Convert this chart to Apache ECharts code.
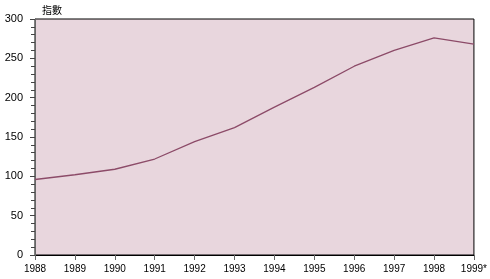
<!DOCTYPE html>
<html><head><meta charset="utf-8">
<script src="https://cdn.jsdelivr.net/npm/echarts@6/dist/echarts.min.js"></script>
<style>html,body{margin:0;padding:0;background:#fff}#c{width:490px;height:279px}</style>
</head><body><div id="c"></div>
<script>
var years = ['1988','1989','1990','1991','1992','1993','1994','1995','1996','1997','1998','1999*'];
var indexValues = [96, 102, 109, 122, 144, 162, 188, 213, 240, 260, 276, 268];
var yTicks = [0, 50, 100, 150, 200, 250, 300];
var chart = echarts.init(document.getElementById('c'));
chart.setOption({
  animation: false,
  backgroundColor: '#fff',
  title: {text: '指數', left: 37, top: 0, textStyle: {fontSize: 10, fontWeight: 'normal', color: '#000', fontFamily: 'Noto Sans CJK TC'}},
  grid: {left: 35, right: 15, top: 19, bottom: 24, show: true, backgroundColor: '#e8d6dd', borderColor: '#000', borderWidth: 1},
  xAxis: {
    type: 'category', data: years, boundaryGap: false,
    axisLine: {lineStyle: {color: '#000', width: 1}},
    axisTick: {show: true, length: 5, lineStyle: {color: '#666'}},
    axisLabel: {fontSize: 10, color: '#000', fontFamily: 'Liberation Sans', margin: 9, interval: 0},
    splitLine: {show: false}
  },
  yAxis: {
    type: 'value', min: yTicks[0], max: yTicks[yTicks.length-1], interval: 50,
    axisLine: {show: true, lineStyle: {color: '#666', width: 1}},
    axisTick: {show: true, length: 5, lineStyle: {color: '#444'}},
    minorTick: {show: true, splitNumber: 5, length: 4, lineStyle: {color: '#444'}},
    axisLabel: {fontSize: 11, color: '#000', fontFamily: 'Liberation Sans', margin: 12},
    splitLine: {show: false}
  },
  series: [{type: 'line', data: indexValues, symbol: 'none', lineStyle: {color: '#8c4b68', width: 1.3}}]
});
</script></body></html>
